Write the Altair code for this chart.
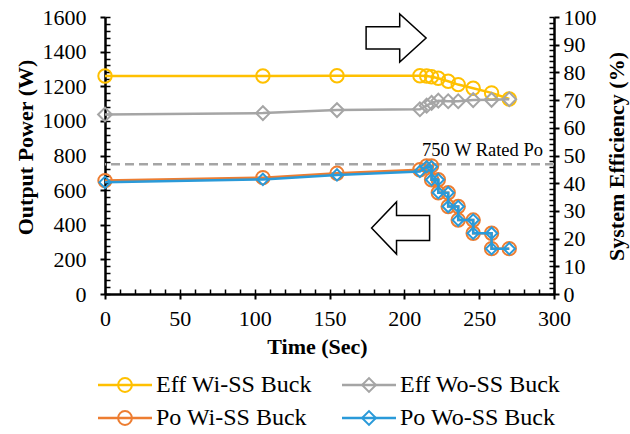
import altair as alt
import pandas as pd

# ---------------- data ----------------
series_names = ["Eff Wi-SS Buck", "Eff Wo-SS Buck", "Po Wi-SS Buck", "Po Wo-SS Buck"]
series_colors = ["#FFC000", "#A5A5A5", "#ED7D31", "#2A9AD9"]
series_shapes = ["circle", "diamond", "circle", "diamond"]
legend_col = [0, 1, 0, 1]
legend_row = [0, 0, 1, 1]

time_eff = [0, 105.5, 155, 210.4, 214.9, 218.2, 222.7, 229.3, 236.0, 246.0, 258.3, 270.1]
eff_wi = [78.7, 78.7, 78.8, 78.8, 78.7, 78.4, 77.9, 76.8, 75.6, 74.3, 72.6, 70.4]
eff_wo = [64.8, 65.3, 66.4, 66.7, 68.0, 69.0, 69.8, 69.6, 69.6, 70.0, 70.1, 70.3]

time_po = [0, 105.5, 155, 210.4, 214.9, 218.2, 218.2, 222.7, 222.7, 229.3, 229.3,
           236.0, 236.0, 246.0, 246.0, 258.3, 258.3, 270.1]
po_wi = [655, 672, 697, 718, 740, 740, 660, 660, 585, 585, 505, 505, 427, 427, 351, 351, 262, 262]
po_wo = [645, 662, 688, 708, 735, 735, 660, 660, 585, 585, 505, 505, 427, 427, 351, 351, 262, 262]

rated_power = [750]
rated_label = ["750 W Rated Po"]

arrow_time = [194.5, 197.5]
arrow_power = [1479, 381]

x_ticks = list(range(0, 301, 50))
x_minor = list(range(0, 301, 10))
p_ticks = list(range(0, 1601, 200))
p_minor = list(range(0, 1601, 40))
e_ticks = list(range(0, 101, 10))
e_minor = list(range(0, 101, 2))

# ---------------- styling constants ----------------
FONT = "Liberation Serif"
ARROW_RIGHT = "M -1 -0.37 L 0.12 -0.37 L 0.12 -0.8 L 1 0 L 0.12 0.8 L 0.12 0.37 L -1 0.37 Z"
ARROW_LEFT = "M 1 -0.43 L -0.14 -0.43 L -0.14 -0.9 L -1 0 L -0.14 0.9 L -0.14 0.43 L 1 0.43 Z"

eff_df = pd.DataFrame({
    "t": time_eff + time_eff,
    "v": eff_wi + eff_wo,
    "series": [series_names[0]] * len(time_eff) + [series_names[1]] * len(time_eff),
})
po_df = pd.DataFrame({
    "t": time_po + time_po,
    "v": po_wi + po_wo,
    "series": [series_names[2]] * len(time_po) + [series_names[3]] * len(time_po),
})
leg_df = pd.DataFrame({"series": series_names, "shape": series_shapes,
                       "col": legend_col, "row": legend_row})

xs = alt.Scale(domain=[0, 300], nice=False)
ps = alt.Scale(domain=[0, 1600], nice=False)
es = alt.Scale(domain=[0, 100], nice=False)
cs = alt.Scale(domain=series_names, range=series_colors)
# legend grid placement (column / row slots below the plot)
lcol = alt.Scale(domain=[0, 1], range=[20, 264])
lrow = alt.Scale(domain=[0, 1], range=[368, 401])


def series_layers(df, name, yscale, shape, size):
    d = df[df["series"] == name]
    base = alt.Chart(d).encode(
        x=alt.X("t:Q", scale=xs, axis=None),
        y=alt.Y("v:Q", scale=yscale, axis=None),
        color=alt.Color("series:N", scale=cs, legend=None),
        order=alt.Order("idx:Q"),
    ).transform_window(idx="row_number()")
    line = base.mark_line(strokeWidth=2.5)
    pts = base.mark_point(shape=shape, filled=False, size=size, strokeWidth=2, opacity=1)
    return [line, pts]


dummy = pd.DataFrame({"t": [0], "v": [0]})


def axis_layer(xaxis, yaxis, yscale):
    return alt.Chart(dummy).mark_point(opacity=0).encode(
        x=alt.X("t:Q", scale=xs, axis=xaxis),
        y=alt.Y("v:Q", scale=yscale, axis=yaxis),
    )


common = dict(grid=False, labelFlush=False, labelOverlap=False, tickColor="black",
              labelColor="black", labelFont=FONT, labelFontSize=22, format="d")

x_main_axis = alt.Axis(orient="bottom", values=x_ticks, tickSize=5, tickWidth=2,
                       domain=True, domainColor="black", domainWidth=2.5, labelPadding=9,
                       title="Time (Sec)", titleFont=FONT, titleFontSize=22,
                       titleFontWeight="bold", titleColor="black", titleX=212, titleY=52,
                       titleBaseline="middle", **common)
x_minor_axis = alt.Axis(orient="bottom", values=x_minor, offset=-5, tickSize=5,
                        tickWidth=1.5, domain=False, labels=False, title=None, grid=False,
                        tickColor="black")
p_main_axis = alt.Axis(orient="left", values=p_ticks, tickSize=5, tickWidth=2,
                       domain=True, domainColor="black", domainWidth=2.5, labelPadding=14,
                       title="Output Power (W)", titleFont=FONT, titleFontSize=22,
                       titleFontWeight="bold", titleColor="black", titleAngle=270,
                       titleX=-80, titleY=130, titleBaseline="middle", **common)
p_minor_axis = alt.Axis(orient="left", values=p_minor, offset=-5, tickSize=5,
                        tickWidth=1.5, domain=False, labels=False, title=None, grid=False,
                        tickColor="black")
e_main_axis = alt.Axis(orient="right", values=e_ticks, tickSize=5, tickWidth=2,
                       domain=True, domainColor="black", domainWidth=2.5, labelPadding=4,
                       title="System Efficiency (%)", titleFont=FONT, titleFontSize=22,
                       titleFontWeight="bold", titleColor="black", titleAngle=270,
                       titleX=62, titleY=139, titleBaseline="middle", **common)
e_minor_axis = alt.Axis(orient="right", values=e_minor, offset=-5, tickSize=5,
                        tickWidth=1.5, domain=False, labels=False, title=None, grid=False,
                        tickColor="black")

layers = []

# rated power dashed line + label
rated_df = pd.DataFrame({"p": rated_power, "label": rated_label})
layers.append(alt.Chart(rated_df).mark_rule(color="#A5A5A5", strokeDash=[9, 5], strokeWidth=2.5)
              .encode(y=alt.Y("p:Q", scale=ps, axis=None)))
layers.append(alt.Chart(rated_df).mark_text(align="right", baseline="alphabetic", dx=-11, dy=-8,
                                            font=FONT, fontSize=18.5, color="black")
              .encode(x=alt.XDatum(300, scale=xs, axis=None), y=alt.Y("p:Q", scale=ps, axis=None),
                      text="label:N"))

# arrows
arrow_df = pd.DataFrame({"t": arrow_time, "p": arrow_power, "dir": ["right", "left"]})
layers.append(alt.Chart(arrow_df).transform_filter("datum.dir == 'right'")
              .mark_point(shape=ARROW_RIGHT, size=3600, filled=True, fill="white",
                          stroke="black", strokeWidth=1.5, opacity=1)
              .encode(x=alt.X("t:Q", scale=xs, axis=None), y=alt.Y("p:Q", scale=ps, axis=None)))
layers.append(alt.Chart(arrow_df).transform_filter("datum.dir == 'left'")
              .mark_point(shape=ARROW_LEFT, size=3364, filled=True, fill="white",
                          stroke="black", strokeWidth=1.5, opacity=1)
              .encode(x=alt.X("t:Q", scale=xs, axis=None), y=alt.Y("p:Q", scale=ps, axis=None)))

# series
layers += series_layers(eff_df, series_names[0], es, "circle", 180)
layers += series_layers(eff_df, series_names[1], es, "diamond", 190)
layers += series_layers(po_df, series_names[2], ps, "circle", 180)
layers += series_layers(po_df, series_names[3], ps, "diamond", 130)

# legend (two columns, two rows) below the plot
leg_base = alt.Chart(leg_df).encode(
    x=alt.X("col:Q", scale=lcol, axis=None),
    y=alt.Y("row:Q", scale=lrow, axis=None),
    color=alt.Color("series:N", scale=cs, legend=None),
)
layers.append(leg_base.mark_tick(orient="horizontal", size=54, thickness=2.5, opacity=1))
for shp in ["circle", "diamond"]:
    layers.append(leg_base.transform_filter(alt.datum.shape == shp)
                  .mark_point(shape=shp, filled=False, size=190, strokeWidth=2, opacity=1))
layers.append(alt.Chart(leg_df).mark_text(align="left", baseline="middle", dx=31, font=FONT,
                                          fontSize=24, color="black")
              .encode(x=alt.X("col:Q", scale=lcol, axis=None),
                      y=alt.Y("row:Q", scale=lrow, axis=None),
                      text="series:N"))

# axes
layers.append(axis_layer(x_main_axis, None, ps))
layers.append(axis_layer(x_minor_axis, None, ps))
layers.append(axis_layer(None, p_main_axis, ps))
layers.append(axis_layer(None, p_minor_axis, ps))
layers.append(axis_layer(None, e_main_axis, es))
layers.append(axis_layer(None, e_minor_axis, es))

chart = alt.layer(*layers).resolve_scale(x="independent", y="independent").properties(
    width=449, height=277,
    padding={"left": 105, "top": 17, "right": 76, "bottom": 140},
    autosize=alt.AutoSizeParams(type="none"),
    background="white",
).configure_view(stroke=None)

chart.save("out.html", embed_options={"renderer": "svg", "actions": False})
